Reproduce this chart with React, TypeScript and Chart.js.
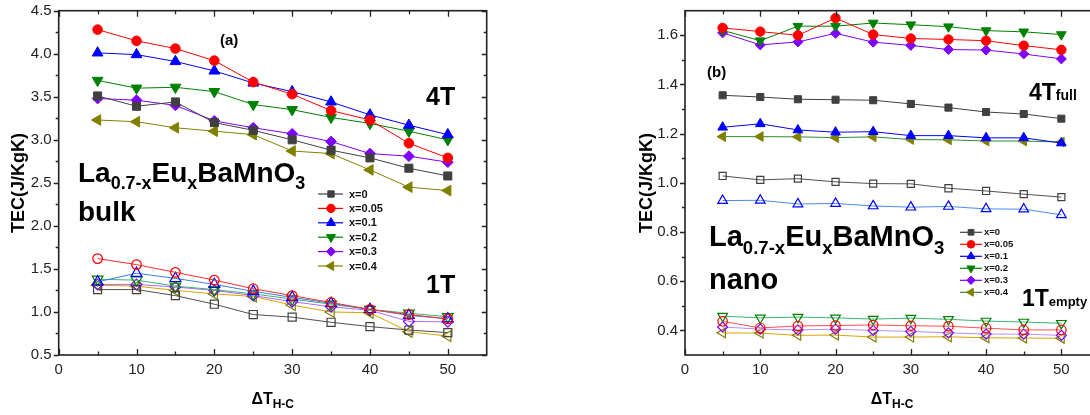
import React, { useEffect, useRef } from 'react';
import { Chart, registerables } from 'chart.js';

Chart.register(...registerables);

const FONT = '"Liberation Sans", Arial, Helvetica, sans-serif';

// ---------- data ----------
const dT = [5, 10, 15, 20, 25, 30, 35, 40, 45, 50];
const seriesLabels = ['x=0', 'x=0.05', 'x=0.1', 'x=0.2', 'x=0.3', 'x=0.4'];

// (a) bulk, 4T (filled)
const bulk4T_x0 = [3.51, 3.39, 3.44, 3.2, 3.11, 3.0, 2.88, 2.79, 2.67, 2.58];
const bulk4T_x005 = [4.28, 4.15, 4.06, 3.92, 3.67, 3.53, 3.34, 3.23, 2.96, 2.79];
const bulk4T_x01 = [4.01, 3.99, 3.91, 3.8, 3.66, 3.56, 3.44, 3.29, 3.17, 3.06];
const bulk4T_x02 = [3.69, 3.6, 3.61, 3.56, 3.41, 3.35, 3.26, 3.19, 3.1, 3.0];
const bulk4T_x03 = [3.48, 3.46, 3.4, 3.22, 3.14, 3.07, 2.98, 2.84, 2.81, 2.74];
const bulk4T_x04 = [3.23, 3.21, 3.14, 3.1, 3.06, 2.87, 2.84, 2.65, 2.45, 2.41];
// (a) bulk, 1T (open)
const bulk1T_x0 = [1.26, 1.26, 1.19, 1.09, 0.97, 0.94, 0.88, 0.83, 0.79, 0.76];
const bulk1T_x005 = [1.62, 1.55, 1.46, 1.37, 1.27, 1.19, 1.11, 1.03, 0.97, 0.92];
const bulk1T_x01 = [1.35, 1.45, 1.39, 1.32, 1.24, 1.17, 1.1, 1.03, 0.96, 0.92];
const bulk1T_x02 = [1.38, 1.37, 1.3, 1.26, 1.21, 1.15, 1.09, 1.03, 0.985, 0.945];
const bulk1T_x03 = [1.32, 1.32, 1.29, 1.25, 1.19, 1.12, 1.06, 1.02, 0.89, 0.885];
const bulk1T_x04 = [1.31, 1.3, 1.25, 1.21, 1.18, 1.08, 1.0, 0.99, 0.77, 0.72];

// (b) nano, 4T full (filled)
const nano4T_x0 = [1.356, 1.349, 1.34, 1.338, 1.336, 1.321, 1.306, 1.288, 1.28, 1.261];
const nano4T_x005 = [1.63, 1.615, 1.6, 1.67, 1.603, 1.587, 1.583, 1.578, 1.558, 1.541];
const nano4T_x01 = [1.226, 1.24, 1.215, 1.206, 1.208, 1.192, 1.192, 1.183, 1.183, 1.162];
const nano4T_x02 = [1.62, 1.578, 1.637, 1.637, 1.65, 1.643, 1.635, 1.619, 1.614, 1.603];
const nano4T_x03 = [1.61, 1.561, 1.573, 1.608, 1.572, 1.559, 1.542, 1.54, 1.524, 1.504];
const nano4T_x04 = [1.188, 1.188, 1.187, 1.184, 1.187, 1.176, 1.175, 1.17, 1.17, 1.166];
// (b) nano, 1T empty (open)
const nano1T_x0 = [1.028, 1.012, 1.017, 1.004, 0.997, 0.996, 0.978, 0.967, 0.954, 0.942];
const nano1T_x005 = [0.437, 0.41, 0.418, 0.42, 0.422, 0.419, 0.417, 0.409, 0.402, 0.402];
const nano1T_x01 = [0.928, 0.929, 0.914, 0.916, 0.906, 0.901, 0.904, 0.894, 0.893, 0.87];
const nano1T_x02 = [0.458, 0.451, 0.454, 0.451, 0.446, 0.45, 0.445, 0.438, 0.434, 0.429];
const nano1T_x03 = [0.414, 0.405, 0.402, 0.405, 0.4, 0.396, 0.39, 0.385, 0.385, 0.38];
const nano1T_x04 = [0.39, 0.389, 0.38, 0.381, 0.373, 0.373, 0.374, 0.37, 0.369, 0.368];

// ticks
const xTicks = [0, 10, 20, 30, 40, 50];
const xMinorTicks = [5, 15, 25, 35, 45];
const yTicksA = [0.5, 1.0, 1.5, 2.0, 2.5, 3.0, 3.5, 4.0, 4.5];
const yMinorA = [0.75, 1.25, 1.75, 2.25, 2.75, 3.25, 3.75, 4.25];
const yTicksB = [0.4, 0.6, 0.8, 1.0, 1.2, 1.4, 1.6];
const yMinorB = [0.5, 0.7, 0.9, 1.1, 1.3, 1.5];

// ---------- styles ----------
const pointStyles = ['rect', 'circle', 'triangle', 'triangle', 'rectRot', 'triangle'];
const pointRotations = [0, 0, 0, 180, 0, -90];
const markerColors = ['#404040', '#ff0000', '#0000ff', '#008000', '#8000ff', '#808000'];
const filledLineA = ['#404040', '#ff0000', '#0000ff', '#008000', '#8000ff', '#808000'];
const openLineA = ['#505050', '#ff2a2a', '#3a7ee6', '#3cb371', '#b266ff', '#d9a400'];
const filledLineB = ['#404040', '#ff0000', '#0000ff', '#008000', '#8000ff', '#2e8b2e'];
const openLineB = ['#505050', '#ff5050', '#4a8ae8', '#3cb371', '#b98cff', '#d9a400'];
const radiiA = [5.7, 4.8, 6.2, 6.2, 5.4, 6.2];
const radiiB = [5, 4.7, 5.6, 5.6, 5, 5.6];
const legendRadiiA = [4.5, 4.2, 5.2, 5.2, 4.6, 5.2];
const legendRadiiB = [4, 3.8, 4.6, 4.6, 4.2, 4.6];

function drawMarker(ctx: CanvasRenderingContext2D, style: string, rot: number, x: number, y: number, r: number, fill: string, stroke: string, lw: number) {
  ctx.beginPath();
  if (style === 'circle') ctx.arc(x, y, r, 0, Math.PI * 2);
  else if (style === 'rect') {
    const s = r * Math.SQRT1_2;
    ctx.rect(x - s, y - s, 2 * s, 2 * s);
  } else if (style === 'rectRot') {
    ctx.moveTo(x, y - r);
    ctx.lineTo(x + r, y);
    ctx.lineTo(x, y + r);
    ctx.lineTo(x - r, y);
    ctx.closePath();
  } else {
    let a = (rot * Math.PI) / 180;
    for (let k = 0; k < 3; k++) {
      const px = x + Math.sin(a) * r;
      const py = y - Math.cos(a) * r;
      if (k) ctx.lineTo(px, py);
      else ctx.moveTo(px, py);
      a += (2 * Math.PI) / 3;
    }
    ctx.closePath();
  }
  ctx.fillStyle = fill;
  ctx.fill();
  ctx.lineWidth = lw;
  ctx.strokeStyle = stroke;
  ctx.stroke();
}

const frameTicksPlugin = {
  id: 'frameTicks',
  afterDatasetsDraw(chart: any, _args: any, opts: any) {
    const { ctx, chartArea: a, scales } = chart;
    const xs = scales.x;
    const ys = scales.y;
    ctx.save();
    ctx.strokeStyle = '#222';
    ctx.lineWidth = 1.6;
    ctx.strokeRect(a.left, a.top, a.right - a.left, a.bottom - a.top);
    ctx.lineWidth = 1.3;
    ctx.beginPath();
    const xT = (vals: number[], len: number) => {
      vals.forEach((v) => {
        const p = Math.round(xs.getPixelForValue(v)) + 0.5;
        ctx.moveTo(p, a.bottom);
        ctx.lineTo(p, a.bottom - len);
        ctx.moveTo(p, a.top);
        ctx.lineTo(p, a.top + len);
      });
    };
    const yT = (vals: number[], len: number) => {
      vals.forEach((v) => {
        const p = Math.round(ys.getPixelForValue(v)) + 0.5;
        ctx.moveTo(a.left, p);
        ctx.lineTo(a.left - len, p);
        ctx.moveTo(a.right, p);
        ctx.lineTo(a.right - len, p);
      });
    };
    xT(opts.xMajor, 6);
    xT(opts.xMinor, 3.5);
    yT(opts.yMajor, 5);
    yT(opts.yMinor, 3);
    ctx.stroke();

    // legend
    const lg = opts.legend;
    ctx.font = `bold ${lg.fontSize}px ${FONT}`;
    ctx.textBaseline = 'middle';
    ctx.textAlign = 'left';
    seriesLabels.forEach((lab, i) => {
      const y = lg.y0 + i * lg.dy;
      ctx.beginPath();
      ctx.strokeStyle = lg.lineColors[i];
      ctx.lineWidth = 1.2;
      ctx.moveTo(lg.x0, y);
      ctx.lineTo(lg.x1, y);
      ctx.stroke();
      drawMarker(ctx, pointStyles[i], pointRotations[i], lg.mx, y, lg.radii[i], markerColors[i], markerColors[i], 1);
      ctx.fillStyle = '#111';
      ctx.fillText(lab, lg.tx, y + 0.5);
    });
    ctx.restore();
  },
};

function buildDatasets(filled: number[][], open: number[][], radii: number[], fLine: string[], oLine: string[]) {
  const ds: any[] = [];
  filled.forEach((vals, i) => {
    ds.push({
      label: seriesLabels[i],
      data: dT.map((x, k) => ({ x, y: vals[k] })),
      borderColor: fLine[i],
      borderWidth: 1,
      pointStyle: pointStyles[i],
      pointRotation: pointRotations[i],
      pointRadius: radii[i],
      pointBorderColor: markerColors[i],
      pointBackgroundColor: markerColors[i],
      pointBorderWidth: 1,
      fill: false,
      tension: 0,
    });
  });
  open.forEach((vals, i) => {
    ds.push({
      label: seriesLabels[i] + ' 1T',
      data: dT.map((x, k) => ({ x, y: vals[k] })),
      borderColor: oLine[i],
      borderWidth: 1,
      pointStyle: pointStyles[i],
      pointRotation: pointRotations[i],
      pointRadius: radii[i],
      pointBorderColor: markerColors[i],
      pointBackgroundColor: 'rgba(255,255,255,0)',
      pointBorderWidth: 1.2,
      fill: false,
      tension: 0,
    });
  });
  return ds;
}

function zeroPad(s: any) {
  s.paddingTop = 0;
  s.paddingBottom = 0;
  s.paddingLeft = 0;
  s.paddingRight = 0;
}

function makeConfig(p: any) {
  return {
    type: 'line',
    data: { datasets: p.datasets },
    options: {
      animation: false,
      responsive: false,
      maintainAspectRatio: false,
      layout: { padding: { left: 0, top: 10.7, right: p.rightPad, bottom: 0 } },
      plugins: {
        legend: { display: false },
        tooltip: { enabled: false },
        frameTicks: {
          xMajor: xTicks,
          xMinor: xMinorTicks,
          yMajor: p.yMajor,
          yMinor: p.yMinor,
          legend: p.legend,
        },
      },
      scales: {
        x: {
          type: 'linear',
          min: 0,
          max: 55,
          grid: { display: false, drawTicks: false },
          border: { display: false },
          ticks: { font: { family: FONT, size: 15 }, color: '#222', padding: 6, callback: (v: any) => String(v) },
          afterBuildTicks: (s: any) => {
            s.ticks = xTicks.map((v) => ({ value: v }));
          },
          afterFit: (s: any) => {
            s.height = 60;
            zeroPad(s);
          },
        },
        y: {
          type: 'linear',
          min: p.yMin,
          max: p.yMax,
          grid: { display: false, drawTicks: false },
          border: { display: false },
          ticks: { font: { family: FONT, size: 15 }, color: '#222', padding: 7, callback: (v: any) => Number(v).toFixed(1) },
          afterBuildTicks: (s: any) => {
            s.ticks = p.yMajor.map((v: number) => ({ value: v }));
          },
          afterFit: (s: any) => {
            s.width = p.yWidth;
            zeroPad(s);
          },
        },
      },
    },
    plugins: [frameTicksPlugin],
  } as any;
}

function Txt({ x, base, size, children, style }: any) {
  return (
    <div
      style={{
        position: 'absolute',
        left: x,
        top: base - 0.8465 * size,
        fontSize: size,
        lineHeight: `${size}px`,
        fontWeight: 'bold',
        fontFamily: FONT,
        whiteSpace: 'nowrap',
        color: '#000',
        ...style,
      }}
    >
      {children}
    </div>
  );
}

function Sub({ size, shift, children }: any) {
  return (
    <span style={{ fontSize: size, position: 'relative', top: shift, lineHeight: 0 }}>{children}</span>
  );
}

function YTitle({ cx, cy }: any) {
  return (
    <div
      style={{
        position: 'absolute',
        left: cx,
        top: cy,
        transform: 'translate(-50%, -50%) rotate(-90deg)',
        fontSize: 18,
        lineHeight: '18px',
        fontWeight: 'bold',
        fontFamily: FONT,
        whiteSpace: 'nowrap',
        color: '#000',
      }}
    >
      TEC(J/KgK)
    </div>
  );
}

function XTitle({ cx, base }: any) {
  return (
    <div
      style={{
        position: 'absolute',
        left: cx,
        top: base - 0.8465 * 16,
        transform: 'translateX(-50%)',
        fontSize: 16,
        lineHeight: '16px',
        fontWeight: 'bold',
        fontFamily: FONT,
        whiteSpace: 'nowrap',
        color: '#000',
      }}
    >
      ΔT<Sub size={12} shift={4}>H-C</Sub>
    </div>
  );
}

function Formula({ x, base, size }: any) {
  const sub = size * 0.64;
  const sh = size * 0.25;
  return (
    <Txt x={x} base={base} size={size}>
      La<Sub size={sub} shift={sh}>0.7-x</Sub>Eu<Sub size={sub} shift={sh}>x</Sub>BaMnO<Sub size={sub} shift={sh}>3</Sub>
    </Txt>
  );
}

export default function App() {
  const refA = useRef<HTMLCanvasElement | null>(null);
  const refB = useRef<HTMLCanvasElement | null>(null);

  useEffect(() => {
    const chartA = new Chart(
      refA.current as HTMLCanvasElement,
      makeConfig({
        datasets: buildDatasets(
          [bulk4T_x0, bulk4T_x005, bulk4T_x01, bulk4T_x02, bulk4T_x03, bulk4T_x04],
          [bulk1T_x0, bulk1T_x005, bulk1T_x01, bulk1T_x02, bulk1T_x03, bulk1T_x04],
          radiiA,
          filledLineA,
          openLineA
        ),
        yMin: 0.5,
        yMax: 4.5,
        yMajor: yTicksA,
        yMinor: yMinorA,
        yWidth: 58.7,
        rightPad: 545 - 486.7,
        legend: { x0: 318, x1: 343, mx: 331, tx: 349, y0: 194, dy: 14.4, fontSize: 11, radii: legendRadiiA, lineColors: filledLineA },
      })
    );
    const chartB = new Chart(
      refB.current as HTMLCanvasElement,
      makeConfig({
        datasets: buildDatasets(
          [nano4T_x0, nano4T_x005, nano4T_x01, nano4T_x02, nano4T_x03, nano4T_x04],
          [nano1T_x0, nano1T_x005, nano1T_x01, nano1T_x02, nano1T_x03, nano1T_x04],
          radiiB,
          filledLineB,
          openLineB
        ),
        yMin: 0.3,
        yMax: 1.7,
        yMajor: yTicksB,
        yMinor: yMinorB,
        yWidth: 140,
        rightPad: 600 - 554,
        legend: { x0: 960 - 545, x1: 982 - 545, mx: 971 - 545, tx: 984 - 545, y0: 232.3, dy: 12, fontSize: 9.5, radii: legendRadiiB, lineColors: filledLineB },
      })
    );
    return () => {
      chartA.destroy();
      chartB.destroy();
    };
  }, []);

  return (
    <div style={{ position: 'fixed', left: 0, top: 0, width: 1090, height: 415, overflow: 'hidden', background: '#fff' }}>
      <div style={{ position: 'absolute', left: 0, top: 0, width: 545, height: 415 }}>
        <canvas ref={refA} width={545} height={415} style={{ display: 'block' }} />
      </div>
      <div style={{ position: 'absolute', left: 545, top: 0, width: 600, height: 415 }}>
        <canvas ref={refB} width={600} height={415} style={{ display: 'block' }} />
      </div>

      {/* panel (a) */}
      <Txt x={220} base={45} size={15}>(a)</Txt>
      <Txt x={426} base={105} size={25}>4T</Txt>
      <Txt x={426} base={293} size={25}>1T</Txt>
      <Formula x={78} base={183} size={28} />
      <Txt x={78} base={222} size={28}>bulk</Txt>
      <YTitle cx={18} cy={183} />
      <XTitle cx={272.7} base={405} />

      {/* panel (b) */}
      <Txt x={707} base={77} size={15}>(b)</Txt>
      <Txt x={1029} base={100} size={23}>
        4T<span style={{ fontSize: 14 }}>full</span>
      </Txt>
      <Txt x={1022} base={306} size={23}>
        1T<span style={{ fontSize: 13 }}>empty</span>
      </Txt>
      <Formula x={709} base={247} size={29} />
      <Txt x={709} base={290} size={29}>nano</Txt>
      <YTitle cx={646} cy={183} />
      <XTitle cx={892} base={405} />
    </div>
  );
}
